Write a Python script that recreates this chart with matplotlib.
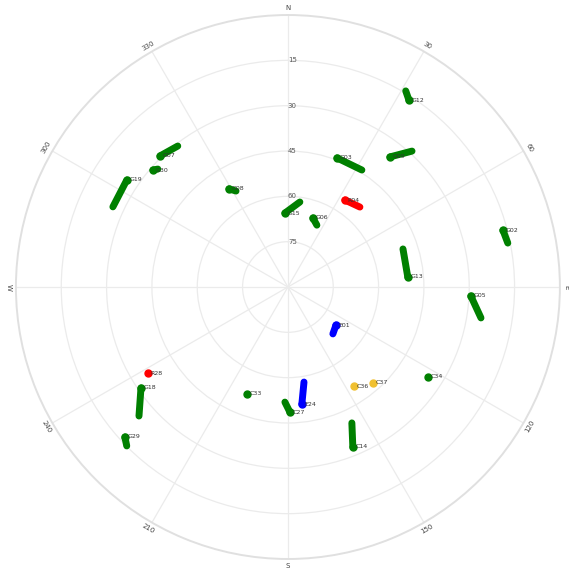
import numpy as np
import matplotlib.pyplot as plt

# satellite tracks: azimuth / elevation (deg) at first and last epoch
sats = ['G12', 'G03', 'G09', 'R04', 'G15', 'G06', 'G08', 'G07', 'G30', 'G19',
        'G02', 'G13', 'G05', 'E01', 'E24', 'C36', 'C37', 'C34', 'C14', 'C27',
        'C33', 'R28', 'G18', 'G29']
colors = ['green', 'green', 'green', 'red', 'green', 'green', 'green', 'green', 'green', 'green',
          'green', 'green', 'green', 'blue', 'blue', '#f0c030', '#f0c030', 'green', 'green', 'green',
          'green', 'red', 'green', 'green']
az0 = [31.0, 32.3, 42.4, 42.0, 8.0, 25.1, 331.6, 322.0, 312.2, 294.6,
       78.7, 71.7, 99.1, 136.2, 170.4, 146.3, 138.5, 122.7, 154.8, 181.5,
       201.0, 238.4, 229.1, 225.4]
el0 = [14.3, 44.2, 29.1, 54.4, 61.6, 67.4, 53.9, 30.8, 31.9, 26.3,
       15.8, 49.9, 25.3, 68.5, 58.1, 50.6, 47.6, 34.9, 40.3, 51.9,
       52.1, 35.6, 24.8, 15.1]
az1 = [32.9, 20.8, 38.1, 33.2, 357.7, 19.9, 329.0, 315.7, 310.9, 303.6,
       75.2, 85.2, 92.8, 128.4, 173.2, 146.3, 138.5, 122.7, 157.9, 179.1,
       201.0, 238.4, 235.5, 227.4]
el1 = [16.3, 44.3, 35.3, 55.6, 65.5, 65.7, 52.1, 29.4, 30.9, 26.0,
       16.4, 50.2, 29.4, 69.7, 51.0, 50.6, 47.6, 34.9, 32.9, 48.6,
       52.1, 35.6, 31.0, 16.7]

dir_labels = ['N', '30', '60', 'E', '120', '150', 'S', '210', '240', 'W', '300', '330']
elev_ticks = [15, 30, 45, 60, 75]

fig = plt.figure(figsize=(5.69, 5.69), dpi=100)
ax = fig.add_axes([0.028, 0.0176, 0.956, 0.956], projection='polar')
ax.set_theta_zero_location('N')
ax.set_theta_direction(-1)
ax.set_rlim(0, 90)

grid_c = '#ebebeb'
ax.set_thetagrids(np.arange(0, 360, 30), labels=[''] * 12)
ax.set_rgrids([90 - e for e in elev_ticks], labels=[''] * len(elev_ticks))
ax.grid(True, color=grid_c, lw=0.9)
ax.spines['polar'].set_color('#e0e0e0')
ax.spines['polar'].set_linewidth(1.4)

# compass / azimuth labels, turned along the rim
for i, lab in enumerate(dir_labels):
    az = i * 30
    rot = (90 - az) - 90
    rot = (rot + 90) % 180 - 90
    ax.text(np.radians(az), 92.3, lab, rotation=rot, ha='center', va='center',
            fontsize=5, color='#444444', rotation_mode='anchor', clip_on=False)

# elevation labels along the north axis
for e in elev_ticks:
    ax.text(0, 90 - e, str(e), ha='left', va='center', fontsize=5,
            color='#555555', transform=ax.transData)

for name, c, a0, e0, a1, e1 in zip(sats, colors, az0, el0, az1, el1):
    th = np.radians([a0, a1])
    rr = [90 - e0, 90 - e1]
    ax.plot(th, rr, color=c, lw=5, solid_capstyle='round', zorder=3)
    ax.plot(th[-1], rr[-1], 'o', color=c, ms=5, zorder=4)
    ax.annotate(name, (th[-1], rr[-1]), xytext=(2, 0), textcoords='offset points',
                fontsize=4.5, color='#333333', va='center', ha='left', zorder=5)

fig.savefig('out.png', dpi=100)
